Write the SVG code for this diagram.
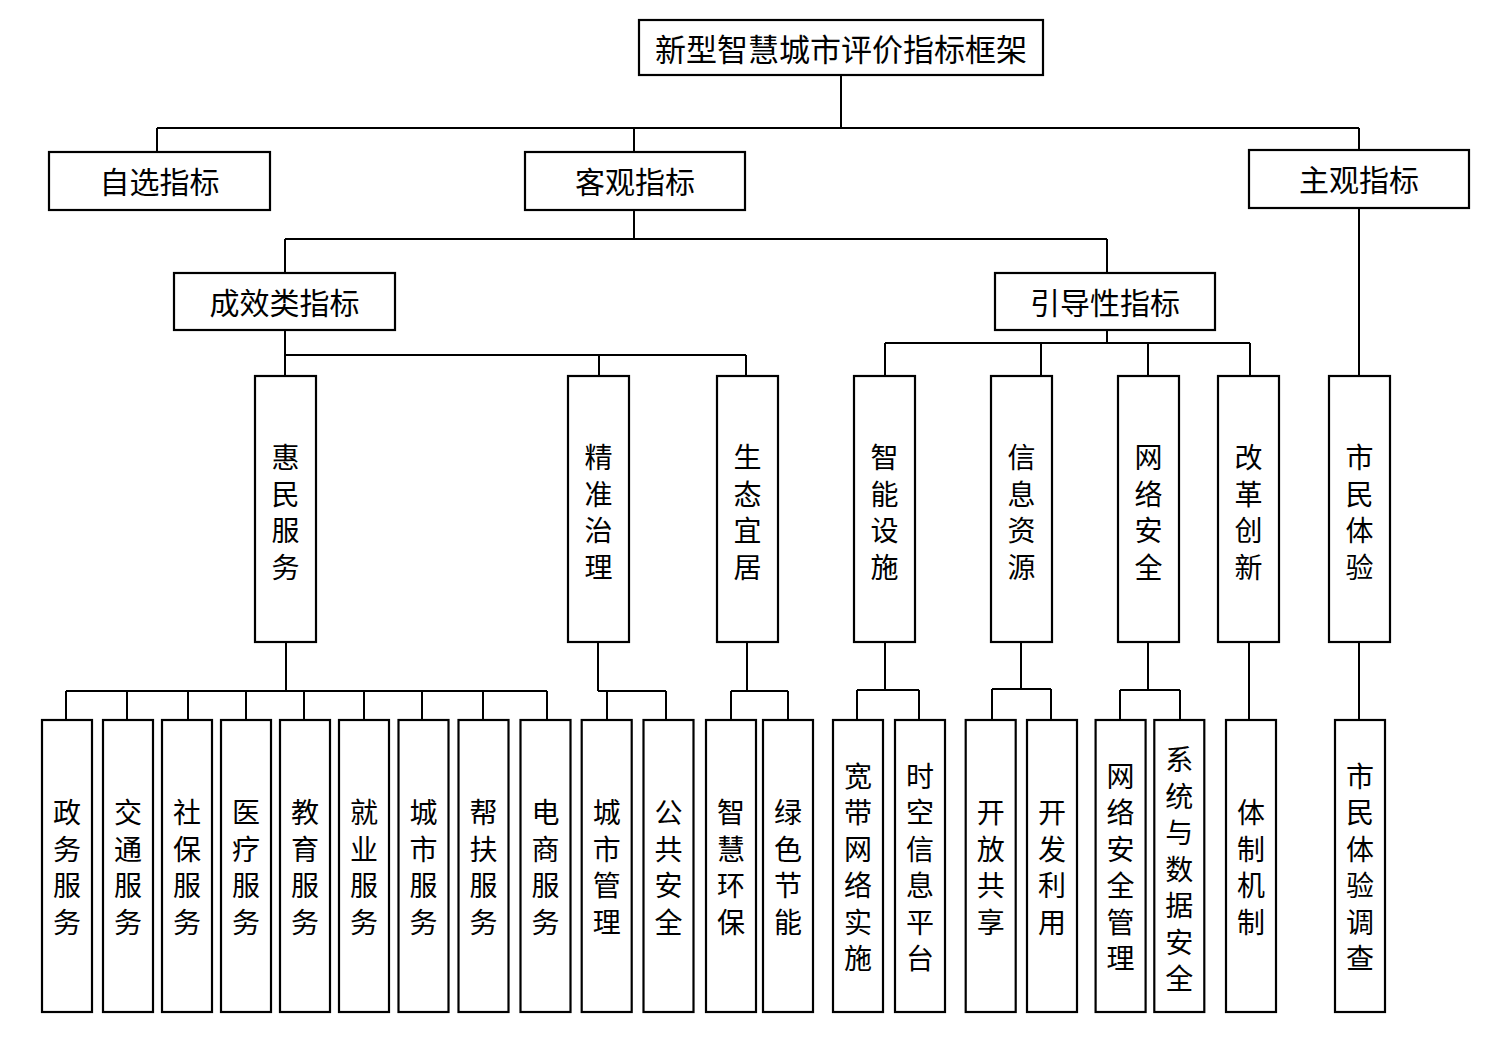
<svg xmlns="http://www.w3.org/2000/svg" width="1511" height="1051" viewBox="0 0 1511 1051">
<style>
.box{fill:#fff;stroke:#000;stroke-width:2.2}
.ln{fill:none;stroke:#000;stroke-width:2}
.h{font-family:"Noto Sans CJK SC","Noto Sans CJK JP",sans-serif;font-size:30px;text-anchor:middle;dominant-baseline:central;fill:#000}
.v{font-family:"Noto Sans CJK SC","Noto Sans CJK JP",sans-serif;font-size:28px;text-anchor:middle;dominant-baseline:central;fill:#000}
</style>
<rect width="1511" height="1051" fill="#fff"/>
<g id="connectors">
<path class="ln" d="M841 75V128M157 128H1359M157 128V152M634 128V152M1359 128V150"/>
<path class="ln" d="M634 210V239M285 239H1107M285 239V273M1107 239V273"/>
<path class="ln" d="M285 330V355M285 355H746M285 355V376M599 355V376M746 355V376"/>
<path class="ln" d="M1107 330V343M885 343H1250M885 343V376M1041 343V376M1148 343V376M1250 343V376"/>
<path class="ln" d="M1359 208V376"/>
<path class="ln" d="M286 642V691M66 691H547M66 691V720M127 691V720M188 691V720M246 691V720M304 691V720M364 691V720M422 691V720M483 691V720M547 691V720"/>
<path class="ln" d="M598 642V691M598 691H666M607 691V720M666 691V720"/>
<path class="ln" d="M747 642V691M731 691H788M731 691V720M788 691V720"/>
<path class="ln" d="M885 642V690M857 690H919M857 690V720M919 690V720"/>
<path class="ln" d="M1021 642V689M992 689H1051M992 689V720M1051 689V720"/>
<path class="ln" d="M1148 642V690M1120 690H1180M1120 690V720M1180 690V720"/>
<path class="ln" d="M1249 642V720M1359 642V720"/>
</g>
<g id="root"><rect class="box" x="639" y="20" width="404" height="55"/><text class="h" x="841" y="47.5" style="font-size:31px">新型智慧城市评价指标框架</text></g>
<g id="zixuan"><rect class="box" x="49" y="152" width="221" height="58"/><text class="h" x="159.5" y="180">自选指标</text></g>
<g id="keguan"><rect class="box" x="525" y="152" width="220" height="58"/><text class="h" x="635" y="180">客观指标</text></g>
<g id="zhuguan"><rect class="box" x="1249" y="150" width="220" height="58"/><text class="h" x="1359" y="178">主观指标</text></g>
<g id="chengxiao"><rect class="box" x="174" y="273" width="221" height="57"/><text class="h" x="284.5" y="301">成效类指标</text></g>
<g id="yindao"><rect class="box" x="995" y="273" width="220" height="57"/><text class="h" x="1105" y="301">引导性指标</text></g>

<g id="huimin"><rect class="box" x="255" y="376" width="61" height="266"/><text class="v"><tspan x="285.5" y="456">惠</tspan><tspan x="285.5" y="492.7">民</tspan><tspan x="285.5" y="529.3">服</tspan><tspan x="285.5" y="566">务</tspan></text></g>
<g id="jingzhun"><rect class="box" x="568" y="376" width="61" height="266"/><text class="v"><tspan x="598.5" y="456">精</tspan><tspan x="598.5" y="492.7">准</tspan><tspan x="598.5" y="529.3">治</tspan><tspan x="598.5" y="566">理</tspan></text></g>
<g id="shengtai"><rect class="box" x="717" y="376" width="61" height="266"/><text class="v"><tspan x="747.5" y="456">生</tspan><tspan x="747.5" y="492.7">态</tspan><tspan x="747.5" y="529.3">宜</tspan><tspan x="747.5" y="566">居</tspan></text></g>
<g id="zhineng"><rect class="box" x="854" y="376" width="61" height="266"/><text class="v"><tspan x="884.5" y="456">智</tspan><tspan x="884.5" y="492.7">能</tspan><tspan x="884.5" y="529.3">设</tspan><tspan x="884.5" y="566">施</tspan></text></g>
<g id="xinxi"><rect class="box" x="991" y="376" width="61" height="266"/><text class="v"><tspan x="1021.5" y="456">信</tspan><tspan x="1021.5" y="492.7">息</tspan><tspan x="1021.5" y="529.3">资</tspan><tspan x="1021.5" y="566">源</tspan></text></g>
<g id="wangluo"><rect class="box" x="1118" y="376" width="61" height="266"/><text class="v"><tspan x="1148.5" y="456">网</tspan><tspan x="1148.5" y="492.7">络</tspan><tspan x="1148.5" y="529.3">安</tspan><tspan x="1148.5" y="566">全</tspan></text></g>
<g id="gaige"><rect class="box" x="1218" y="376" width="61" height="266"/><text class="v"><tspan x="1248.5" y="456">改</tspan><tspan x="1248.5" y="492.7">革</tspan><tspan x="1248.5" y="529.3">创</tspan><tspan x="1248.5" y="566">新</tspan></text></g>
<g id="shimin"><rect class="box" x="1329" y="376" width="61" height="266"/><text class="v"><tspan x="1359.5" y="456">市</tspan><tspan x="1359.5" y="492.7">民</tspan><tspan x="1359.5" y="529.3">体</tspan><tspan x="1359.5" y="566">验</tspan></text></g>

<g id="b1"><rect class="box" x="42" y="720" width="50" height="292"/><text class="v"><tspan x="67" y="811.3">政</tspan><tspan x="67" y="847.8">务</tspan><tspan x="67" y="884.3">服</tspan><tspan x="67" y="920.8">务</tspan></text></g>
<g id="b2"><rect class="box" x="103" y="720" width="50" height="292"/><text class="v"><tspan x="128" y="811.3">交</tspan><tspan x="128" y="847.8">通</tspan><tspan x="128" y="884.3">服</tspan><tspan x="128" y="920.8">务</tspan></text></g>
<g id="b3"><rect class="box" x="162" y="720" width="50" height="292"/><text class="v"><tspan x="187" y="811.3">社</tspan><tspan x="187" y="847.8">保</tspan><tspan x="187" y="884.3">服</tspan><tspan x="187" y="920.8">务</tspan></text></g>
<g id="b4"><rect class="box" x="221" y="720" width="50" height="292"/><text class="v"><tspan x="246" y="811.3">医</tspan><tspan x="246" y="847.8">疗</tspan><tspan x="246" y="884.3">服</tspan><tspan x="246" y="920.8">务</tspan></text></g>
<g id="b5"><rect class="box" x="280" y="720" width="50" height="292"/><text class="v"><tspan x="305" y="811.3">教</tspan><tspan x="305" y="847.8">育</tspan><tspan x="305" y="884.3">服</tspan><tspan x="305" y="920.8">务</tspan></text></g>
<g id="b6"><rect class="box" x="339" y="720" width="50" height="292"/><text class="v"><tspan x="364" y="811.3">就</tspan><tspan x="364" y="847.8">业</tspan><tspan x="364" y="884.3">服</tspan><tspan x="364" y="920.8">务</tspan></text></g>
<g id="b7"><rect class="box" x="398.5" y="720" width="50" height="292"/><text class="v"><tspan x="423.5" y="811.3">城</tspan><tspan x="423.5" y="847.8">市</tspan><tspan x="423.5" y="884.3">服</tspan><tspan x="423.5" y="920.8">务</tspan></text></g>
<g id="b8"><rect class="box" x="458.5" y="720" width="50" height="292"/><text class="v"><tspan x="483.5" y="811.3">帮</tspan><tspan x="483.5" y="847.8">扶</tspan><tspan x="483.5" y="884.3">服</tspan><tspan x="483.5" y="920.8">务</tspan></text></g>
<g id="b9"><rect class="box" x="520.5" y="720" width="50" height="292"/><text class="v"><tspan x="545.5" y="811.3">电</tspan><tspan x="545.5" y="847.8">商</tspan><tspan x="545.5" y="884.3">服</tspan><tspan x="545.5" y="920.8">务</tspan></text></g>
<g id="b10"><rect class="box" x="581.7" y="720" width="50" height="292"/><text class="v"><tspan x="606.7" y="811.3">城</tspan><tspan x="606.7" y="847.8">市</tspan><tspan x="606.7" y="884.3">管</tspan><tspan x="606.7" y="920.8">理</tspan></text></g>
<g id="b11"><rect class="box" x="643.5" y="720" width="50" height="292"/><text class="v"><tspan x="668.5" y="811.3">公</tspan><tspan x="668.5" y="847.8">共</tspan><tspan x="668.5" y="884.3">安</tspan><tspan x="668.5" y="920.8">全</tspan></text></g>
<g id="b12"><rect class="box" x="706" y="720" width="50" height="292"/><text class="v"><tspan x="731" y="811.3">智</tspan><tspan x="731" y="847.8">慧</tspan><tspan x="731" y="884.3">环</tspan><tspan x="731" y="920.8">保</tspan></text></g>
<g id="b13"><rect class="box" x="763" y="720" width="50" height="292"/><text class="v"><tspan x="788" y="811.3">绿</tspan><tspan x="788" y="847.8">色</tspan><tspan x="788" y="884.3">节</tspan><tspan x="788" y="920.8">能</tspan></text></g>
<g id="b14"><rect class="box" x="833" y="720" width="50" height="292"/><text class="v"><tspan x="858" y="774.5">宽</tspan><tspan x="858" y="811">带</tspan><tspan x="858" y="847.5">网</tspan><tspan x="858" y="884">络</tspan><tspan x="858" y="920.5">实</tspan><tspan x="858" y="957">施</tspan></text></g>
<g id="b15"><rect class="box" x="895" y="720" width="50" height="292"/><text class="v"><tspan x="920" y="774.5">时</tspan><tspan x="920" y="811">空</tspan><tspan x="920" y="847.5">信</tspan><tspan x="920" y="884">息</tspan><tspan x="920" y="920.5">平</tspan><tspan x="920" y="957">台</tspan></text></g>
<g id="b16"><rect class="box" x="965.7" y="720" width="50" height="292"/><text class="v"><tspan x="990.7" y="811.3">开</tspan><tspan x="990.7" y="847.8">放</tspan><tspan x="990.7" y="884.3">共</tspan><tspan x="990.7" y="920.8">享</tspan></text></g>
<g id="b17"><rect class="box" x="1027" y="720" width="50" height="292"/><text class="v"><tspan x="1052" y="811.3">开</tspan><tspan x="1052" y="847.8">发</tspan><tspan x="1052" y="884.3">利</tspan><tspan x="1052" y="920.8">用</tspan></text></g>
<g id="b18"><rect class="box" x="1095.6" y="720" width="50" height="292"/><text class="v"><tspan x="1120.6" y="774.5">网</tspan><tspan x="1120.6" y="811">络</tspan><tspan x="1120.6" y="847.5">安</tspan><tspan x="1120.6" y="884">全</tspan><tspan x="1120.6" y="920.5">管</tspan><tspan x="1120.6" y="957">理</tspan></text></g>
<g id="b19"><rect class="box" x="1154.3" y="720" width="50" height="292"/><text class="v"><tspan x="1179.3" y="758">系</tspan><tspan x="1179.3" y="794.5">统</tspan><tspan x="1179.3" y="831">与</tspan><tspan x="1179.3" y="867.5">数</tspan><tspan x="1179.3" y="904">据</tspan><tspan x="1179.3" y="940.5">安</tspan><tspan x="1179.3" y="977">全</tspan></text></g>
<g id="b20"><rect class="box" x="1226" y="720" width="50" height="292"/><text class="v"><tspan x="1251" y="811.3">体</tspan><tspan x="1251" y="847.8">制</tspan><tspan x="1251" y="884.3">机</tspan><tspan x="1251" y="920.8">制</tspan></text></g>
<g id="b21"><rect class="box" x="1335" y="720" width="50" height="292"/><text class="v"><tspan x="1360" y="774.5">市</tspan><tspan x="1360" y="811">民</tspan><tspan x="1360" y="847.5">体</tspan><tspan x="1360" y="884">验</tspan><tspan x="1360" y="920.5">调</tspan><tspan x="1360" y="957">查</tspan></text></g>
</svg>
